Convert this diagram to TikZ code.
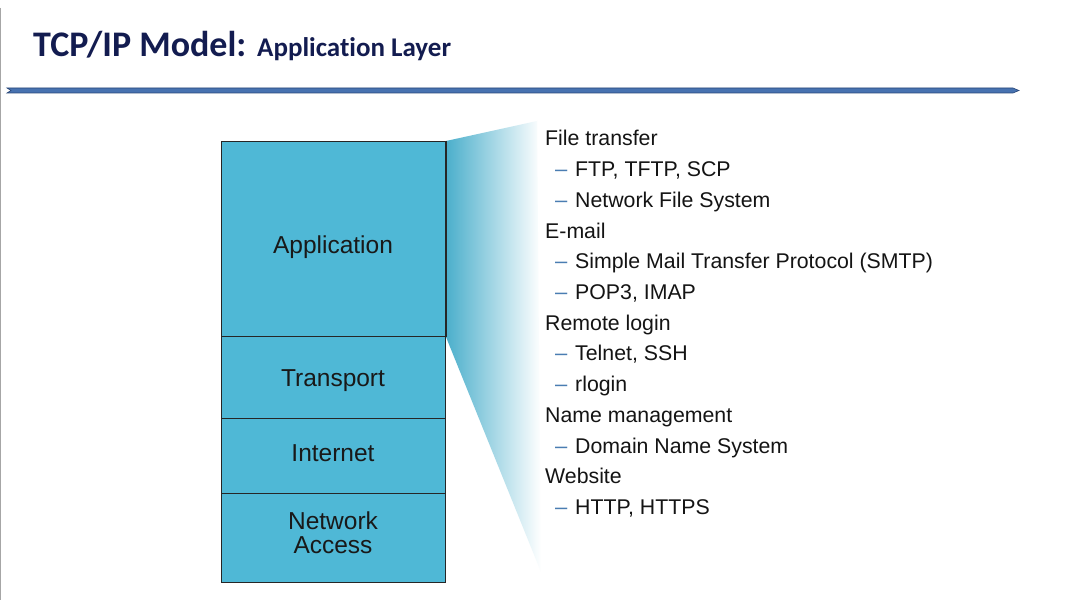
\documentclass[tikz,border=0pt]{standalone}
\usepackage{fontspec}
\setmainfont{Liberation Sans}
\newfontfamily\titlefont[Ligatures=NoCommon]{Carlito}
\definecolor{appblue}{HTML}{4FB8D6}
\definecolor{titlenavy}{HTML}{131C50}
\definecolor{dashblue}{HTML}{4A7DB2}
\definecolor{rulefill}{HTML}{4772B0}
\definecolor{ruleedge}{HTML}{2A4778}
\begin{document}
\begin{tikzpicture}[x=1pt,y=-1pt,
  layer/.style={draw=black!85,line width=1pt,fill=appblue,minimum width=224pt,inner sep=0pt,anchor=north west},
  lbl/.style={anchor=base,inner sep=0pt,font=\fontsize{24.5}{26}\selectfont,text=black!90,align=center},
  item/.style={anchor=base west,inner sep=0pt,font=\fontsize{21.3}{24}\selectfont,text=black!92},
  dsh/.style={anchor=base west,inner sep=0pt,font=\fontsize{22}{24}\selectfont,text=dashblue}]
\useasboundingbox (0,0) rectangle (1076,604);
\fill[white] (0,0) rectangle (1076,604);
% left border
\draw[gray!70,line width=1.2pt] (0.6,8) -- (0.6,600);
% title
\node[anchor=base west,inner sep=0pt,text=titlenavy] (title) at (33,57)
  {\titlefont\bfseries\fontsize{36}{40}\selectfont TCP/IP Model: \fontsize{27}{30}\selectfont Application Layer};
% rule
\filldraw[fill=rulefill,draw=ruleedge,line width=0.6pt]
  (7,88) -- (1013,88) -- (1019,90.5) -- (1013,93) -- (7,93) -- (11,90.5) -- cycle;
% fan
\coordinate (fantop) at (537,121);
\coordinate (fanbot) at (541,572);
% layers
\node[layer,minimum height=195pt] (app) at (221,141) {};
\node[layer,minimum height=82pt] (trans) at (221,336) {};
\node[layer,minimum height=75pt] (inet) at (221,418) {};
\node[layer,minimum height=89pt] (netacc) at (221,493) {};
\node[lbl] (appl) at (333,253) {Application};
\node[lbl] (transl) at (333,386) {Transport};
\node[lbl] (inetl) at (333,461) {Internet};
\node[lbl] (netl) at (333,529) {Network};
\node[lbl] (accl) at (333,553) {Access};
\shade[left color=appblue!95!black,right color=white]
  (app.north east) -- (fantop) -- (fanbot) -- (app.south east) -- cycle;
\draw[black!85,line width=1pt] (app.north east) -- (app.south east);
% list
\node[item] (h1) at (545,146) {File transfer};
\node[dsh] (d1) at (555,176.7) {–}; \node[item] (s1) at (575,176.7) {FTP, TFTP, SCP};
\node[dsh] (d2) at (555,207.4) {–}; \node[item] (s2) at (575,207.4) {Network File System};
\node[item] (h2) at (545,238.1) {E-mail};
\node[dsh] (d3) at (555,268.8) {–}; \node[item] (s3) at (575,268.8) {Simple Mail Transfer Protocol (SMTP)};
\node[dsh] (d4) at (555,299.5) {–}; \node[item] (s4) at (575,299.5) {POP3, IMAP};
\node[item] (h3) at (545,330.2) {Remote login};
\node[dsh] (d5) at (555,360.9) {–}; \node[item] (s5) at (575,360.9) {Telnet, SSH};
\node[dsh] (d6) at (555,391.6) {–}; \node[item] (s6) at (575,391.6) {rlogin};
\node[item] (h4) at (545,422.3) {Name management};
\node[dsh] (d7) at (555,453) {–}; \node[item] (s7) at (575,453) {Domain Name System};
\node[item] (h5) at (545,483.7) {Website};
\node[dsh] (d8) at (555,514.4) {–}; \node[item] (s8) at (575,514.4) {HTTP, HTTPS};
\end{tikzpicture}
\end{document}
